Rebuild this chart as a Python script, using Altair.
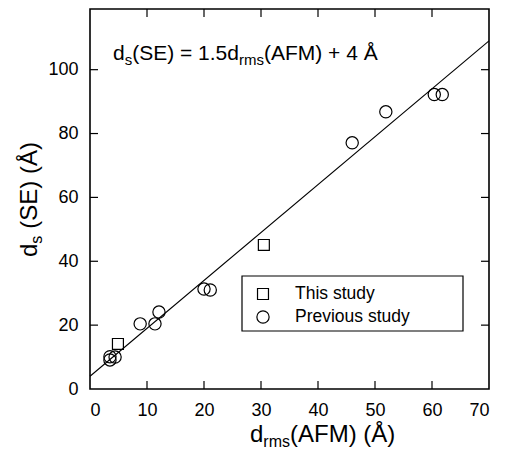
import altair as alt
import pandas as pd

# ---- data ----
prev_x = [60.4, 61.8, 51.9, 46.0, 20.0, 21.1, 8.8, 11.4, 12.1, 3.5, 4.4, 3.5]
prev_y = [92.2, 92.2, 86.8, 77.1, 31.3, 31.0, 20.4, 20.4, 24.1, 10.1, 10.0, 9.1]
this_x = [30.5, 4.9]
this_y = [45.1, 14.1]
fit_slope = 1.5
fit_intercept = 4.0
fit_x = [0, 70]
x_ticks = [0, 10, 20, 30, 40, 50, 60, 70]
y_ticks = [0, 20, 40, 60, 80, 100]
x_inner_ticks = [10, 20, 30, 40, 50, 60]
y_inner_ticks = [20, 40, 60, 80, 100]
legend_labels = ["This study", "Previous study"]

W, H = 399, 380
FONT = "Liberation Sans"

xs = alt.Scale(domain=[0, 70], nice=False, zero=False)
ys = alt.Scale(domain=[0, 119], nice=False, zero=False)

prev_df = pd.DataFrame({"x": prev_x, "y": prev_y})
this_df = pd.DataFrame({"x": this_x, "y": this_y})
fit_df = pd.DataFrame({"x": fit_x, "y": [fit_slope * v + fit_intercept for v in fit_x]})

xax = alt.Axis(values=x_ticks, ticks=False, domain=False, grid=False, labelFontSize=18,
               labelFont=FONT, labelColor="black", labelPadding=12, title=None)
yax = alt.Axis(values=y_ticks, ticks=False, domain=False, grid=False, labelFontSize=18,
               labelFont=FONT, labelColor="black", labelPadding=12, title=None)

fit = alt.Chart(fit_df).mark_line(color="black", strokeWidth=1.1).encode(
    x=alt.X("x:Q", scale=xs, axis=xax), y=alt.Y("y:Q", scale=ys, axis=yax))

circles = alt.Chart(prev_df).mark_point(shape="circle", filled=False, color="black",
                                        size=150, strokeWidth=1.2, opacity=1).encode(
    x=alt.X("x:Q", scale=xs), y=alt.Y("y:Q", scale=ys))
squares = alt.Chart(this_df).mark_point(shape="square", filled=False, color="black",
                                        size=120, strokeWidth=1.2, opacity=1).encode(
    x=alt.X("x:Q", scale=xs), y=alt.Y("y:Q", scale=ys))

# inward ticks on all four sides
xt = pd.DataFrame({"v": x_inner_ticks})
yt = pd.DataFrame({"v": y_inner_ticks})
TL = 8
ticks = [
    alt.Chart(xt).mark_rule(color="black", strokeWidth=1.2).encode(
        x=alt.X("v:Q", scale=xs), y=alt.value(H), y2=alt.value(H - TL)),
    alt.Chart(xt).mark_rule(color="black", strokeWidth=1.2).encode(
        x=alt.X("v:Q", scale=xs), y=alt.value(0), y2=alt.value(TL)),
    alt.Chart(yt).mark_rule(color="black", strokeWidth=1.2).encode(
        y=alt.Y("v:Q", scale=ys), x=alt.value(0), x2=alt.value(TL)),
    alt.Chart(yt).mark_rule(color="black", strokeWidth=1.2).encode(
        y=alt.Y("v:Q", scale=ys), x=alt.value(W), x2=alt.value(W - TL)),
]

# ---- rich text helper (Arial / Liberation Sans advance widths) ----
ADV = {" ": 278, "(": 333, ")": 333, "=": 584, "+": 584, ".": 278, "A": 667, "E": 667,
       "F": 611, "M": 833, "S": 667, "d": 556, "m": 833, "r": 333, "s": 500, "Å": 667,
       "T": 611, "h": 556, "i": 222, "t": 278, "u": 556, "y": 500, "P": 667, "e": 556,
       "v": 500, "o": 556}


def tw(s, size):
    return sum(ADV.get(c, 556) for c in s) / 1000.0 * size


dummy = pd.DataFrame({"a": [0]})


def rich(segments, x0, y0, vertical=False):
    """segments: (text, fontSize, baseline shift, extra gap before)"""
    out = []
    pos = 0.0
    for text, size, shift, gap in segments:
        pos += gap
        if vertical:
            px, py, ang = x0 + shift, y0 - pos, 270
        else:
            px, py, ang = x0 + pos, y0 + shift, 0
        out.append(alt.Chart(dummy).mark_text(text=text, fontSize=size, font=FONT, color="black",
                                              align="left", baseline="alphabetic", angle=ang).encode(
            x=alt.value(px), y=alt.value(py)))
        pos += tw(text, size)
    return out


annot = rich([("d", 21, 0, 0), ("s", 15, 5, 0), ("(SE) = 1.5d", 21, 0, 0), ("rms", 15, 5, 0),
              ("(AFM) + 4 Å", 21, 0, 0)], 23, 51)
xtitle = rich([("d", 24, 0, 0), ("rms", 16, 5, 0), ("(AFM) (Å)", 24, 0, 0)], 160, 433)
ytitle = rich([("d", 24, 0, 0), ("s", 16, 5, 0), ("(SE) (Å)", 24, 0, 7)], -53, 248, vertical=True)

# ---- legend box ----
lg_left, lg_top, lg_right, lg_bot = 152, 267, 373, 322
legend = [
    alt.Chart(dummy).mark_rect(fill="white", stroke="black", strokeWidth=1.2).encode(
        x=alt.value(lg_left), x2=alt.value(lg_right), y=alt.value(lg_top), y2=alt.value(lg_bot)),
    alt.Chart(dummy).mark_point(shape="square", filled=False, color="black", size=120,
                                strokeWidth=1.2, opacity=1).encode(
        x=alt.value(173), y=alt.value(285)),
    alt.Chart(dummy).mark_point(shape="circle", filled=False, color="black", size=150,
                                strokeWidth=1.2, opacity=1).encode(
        x=alt.value(173), y=alt.value(308)),
    alt.Chart(dummy).mark_text(text=legend_labels[0], fontSize=17.5, font=FONT, color="black",
                               align="left", baseline="middle").encode(
        x=alt.value(205), y=alt.value(285)),
    alt.Chart(dummy).mark_text(text=legend_labels[1], fontSize=17.5, font=FONT, color="black",
                               align="left", baseline="middle").encode(
        x=alt.value(205), y=alt.value(308)),
]

chart = alt.layer(fit, *ticks, circles, squares, *legend, *annot, *xtitle, *ytitle).properties(
    width=W, height=H,
    padding={"left": 90, "top": 9, "right": 19, "bottom": 74},
    autosize=alt.AutoSizeParams(type="none"),
    background="white",
).configure_view(stroke="black", strokeWidth=1.6)

chart.save("out.html", embed_options={"renderer": "svg", "actions": False})
